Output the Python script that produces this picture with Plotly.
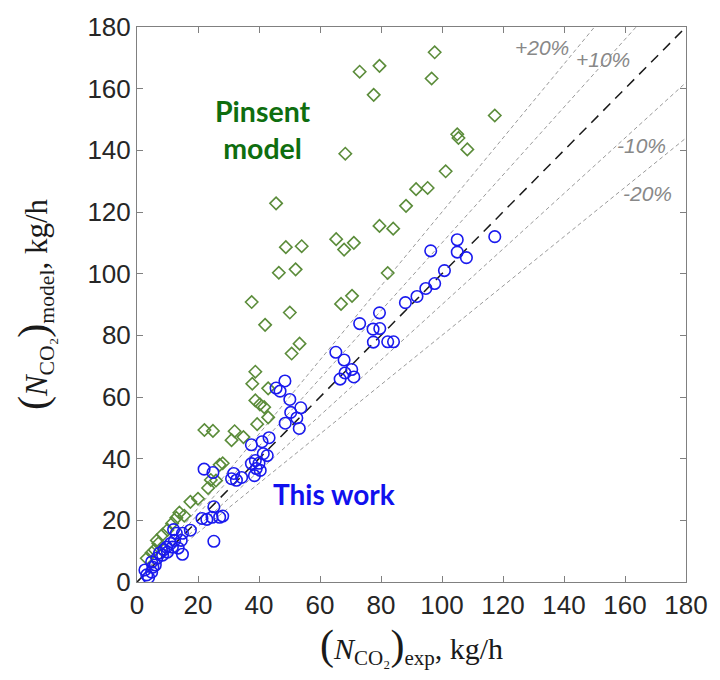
import plotly.graph_objects as go

# Experimental vs. predicted CO2 absorption rate (kg/h)
# Pinsent model predictions
pinsent_exp = [97.6, 96.6, 79.5, 73.0, 77.6, 68.3, 117.3, 105.0, 105.4, 108.3,
               101.2, 95.3, 91.5, 88.2, 79.5, 84.0, 45.6, 48.8, 54.0, 46.5,
               52.0, 37.6, 50.1, 42.0, 65.3, 67.9, 71.1, 66.9, 70.5, 53.3,
               50.7, 82.2, 38.8, 37.8, 43.0, 38.8, 40.3, 41.7, 43.0, 39.4,
               22.1, 24.9, 32.0, 34.9, 31.0, 27.1, 28.1, 24.2, 23.3, 17.5,
               13.9, 12.9, 11.5, 10.0, 8.4, 5.8, 4.8, 7.0, 15.5, 3.2,
               25.9, 20.0, 6.5]
pinsent_model = [171.8, 163.3, 167.4, 165.5, 158.0, 138.9, 151.3, 145.2, 144.0, 140.3,
                 133.2, 127.8, 127.4, 122.0, 115.5, 114.6, 122.8, 108.6, 108.9, 100.3,
                 101.4, 90.8, 87.4, 83.4, 111.2, 107.8, 110.0, 90.2, 92.8, 77.3,
                 74.1, 100.2, 68.2, 64.3, 62.8, 58.9, 57.6, 56.7, 53.4, 51.2,
                 49.3, 49.0, 48.9, 47.0, 46.0, 38.0, 38.5, 33.1, 30.5, 26.0,
                 22.5, 20.8, 19.0, 16.9, 15.4, 10.4, 9.5, 12.5, 21.5, 7.7,
                 32.9, 27.0, 13.5]

# Predictions of the present model
work_exp = [117.3, 105.0, 105.0, 108.0, 96.3, 100.8, 97.6, 94.7, 91.8, 88.0,
            79.5, 73.0, 77.4, 79.6, 77.5, 82.2, 84.1, 65.2, 67.9, 70.4,
            68.2, 71.1, 66.6, 45.6, 48.5, 46.9, 50.1, 53.7, 50.4, 52.4,
            48.6, 53.2, 37.5, 41.0, 43.3, 41.4, 42.7, 38.8, 37.5, 40.0,
            39.1, 38.5, 40.4, 31.7, 31.0, 34.3, 32.6, 22.0, 24.9, 25.2,
            21.3, 22.9, 24.6, 27.1, 28.1, 25.2, 17.5, 14.9, 12.9, 14.5,
            14.9, 12.3, 11.6, 9.7, 10.0, 8.4, 7.4, 6.5, 4.8, 5.2,
            2.6, 3.2, 4.8, 11.0, 13.5, 8.8, 6.0, 3.8, 12.0]
work_model = [112.0, 111.0, 107.0, 105.2, 107.4, 101.0, 96.8, 95.2, 92.6, 90.6,
              87.3, 83.8, 82.0, 82.2, 77.8, 77.9, 77.9, 74.5, 72.0, 68.9,
              67.8, 66.5, 65.8, 62.9, 65.2, 61.9, 59.2, 56.5, 55.0, 53.2,
              51.5, 49.8, 44.5, 45.5, 46.8, 41.6, 41.0, 39.4, 38.4, 38.5,
              36.8, 34.5, 36.2, 35.2, 33.5, 33.9, 33.0, 36.6, 35.5, 24.4,
              20.6, 20.3, 21.0, 21.0, 21.4, 13.2, 16.8, 15.8, 15.8, 13.5,
              9.0, 13.5, 11.3, 11.3, 9.7, 8.7, 9.4, 7.7, 6.5, 4.8,
              3.9, 2.3, 3.2, 12.5, 11.0, 10.5, 5.5, 1.5, 17.0]

# Deviation bands (percent) around the parity line
deviations = [20, 10, -10, -20]
deviation_labels = ["+20%", "+10%", "-10%", "-20%"]
label_pos = [(132.8, 173.5), (152.9, 169.4), (165.5, 141.6), (167.4, 126.1)]

axis_max = 180
tick_vals = list(range(0, 181, 20))

fig = go.Figure()

for d in deviations:
    k = 1 + d / 100
    fig.add_trace(go.Scatter(
        x=[0, axis_max], y=[0, k * axis_max], mode="lines",
        line=dict(color="#9a9a9a", width=1, dash="4px,3px"),
        hoverinfo="skip", showlegend=False))

fig.add_trace(go.Scatter(
    x=[0, axis_max], y=[0, axis_max], mode="lines",
    line=dict(color="#1a1a1a", width=1.5, dash="10px,7px"),
    hoverinfo="skip", showlegend=False))

fig.add_trace(go.Scatter(
    x=pinsent_exp, y=pinsent_model, mode="markers", name="Pinsent model",
    marker=dict(symbol="diamond-open", size=9.5, color="#5b8c3a",
                line=dict(width=1.6, color="#5b8c3a")),
    showlegend=False))

fig.add_trace(go.Scatter(
    x=work_exp, y=work_model, mode="markers", name="This work",
    marker=dict(symbol="circle-open", size=11.5, color="#1a1aee",
                line=dict(width=1.6, color="#1a1aee")),
    showlegend=False))

for text, (lx, ly) in zip(deviation_labels, label_pos):
    fig.add_annotation(x=lx, y=ly, text=f"<i>{text}</i>", showarrow=False,
                       font=dict(family="Liberation Sans", size=21, color="#888888"))

fig.add_annotation(x=41.4, y=146.8, text="<b>Pinsent<br>model</b>", showarrow=False,
                   font=dict(family="Lato", size=28.5, color="#0f6e0f"))
fig.add_annotation(x=64.6, y=28.7, text="<b>This work</b>", showarrow=False,
                   font=dict(family="Lato", size=28, color="#1010ee"))

paren_l = '<span style="font-size:42px">(</span>'
paren_r = '<span style="font-size:42px">)</span>'
x_title = f"{paren_l}<i>N</i><sub>CO₂</sub>{paren_r}<sub>exp</sub>, kg/h"
y_title = f"{paren_l}<i>N</i><sub>CO₂</sub>{paren_r}<sub>model</sub>, kg/h"

axis_common = dict(
    range=[0, axis_max], tickvals=tick_vals, ticks="inside", ticklen=6,
    tickcolor="#808080", tickwidth=1, showline=True, linecolor="#808080",
    linewidth=1, mirror="ticks", showgrid=False, zeroline=False,
    tickfont=dict(family="Liberation Sans", size=26, color="#262626"),
)

fig.update_xaxes(**axis_common,
                 title=dict(text=x_title, standoff=18,
                            font=dict(family="Liberation Serif", size=30, color="#1a1a1a")))
fig.update_yaxes(**axis_common,
                 title=dict(text=y_title, standoff=30,
                            font=dict(family="Liberation Serif", size=31, color="#1a1a1a")))

fig.update_layout(
    width=720, height=680,
    margin=dict(l=137, r=26, t=24, b=98),
    paper_bgcolor="white", plot_bgcolor="white",
    showlegend=False,
)

fig.write_html("out.html")
